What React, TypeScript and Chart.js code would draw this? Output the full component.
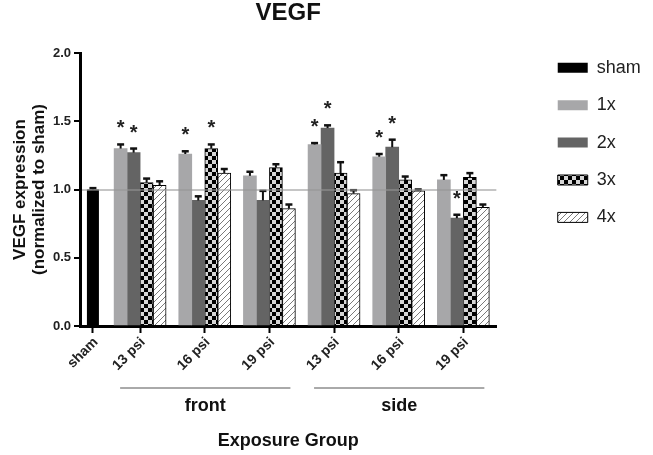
import React, { useEffect, useRef } from "react";
import { Chart, registerables } from "chart.js";

Chart.register(...registerables);

// ---- data ----
const categoryLabels = ["sham", "13 psi", "16 psi", "19 psi", "13 psi", "16 psi", "19 psi"];
// position of each category on the (numeric) category axis; sham sits closer to the first group
const categoryPositions = [0.27, 1, 2, 3, 4, 5, 6];
const seriesNames = ["sham", "1x", "2x", "3x", "4x"];

const shamValues = [1.0];
const shamErrors = [0.01];

const values1x = [1.30, 1.26, 1.10, 1.33, 1.24, 1.07];
const errors1x = [0.03, 0.02, 0.03, 0.01, 0.02, 0.035];
const stars1x = [true, true, false, true, true, false];

const values2x = [1.27, 0.92, 0.92, 1.45, 1.31, 0.79];
const errors2x = [0.03, 0.03, 0.07, 0.02, 0.055, 0.025];
const stars2x = [true, false, false, true, true, true];

const values3x = [1.05, 1.30, 1.16, 1.12, 1.07, 1.09];
const errors3x = [0.03, 0.03, 0.025, 0.08, 0.025, 0.03];
const stars3x = [false, true, false, false, false, false];

const values4x = [1.03, 1.12, 0.86, 0.97, 0.99, 0.87];
const errors4x = [0.03, 0.03, 0.03, 0.025, 0.01, 0.02];
const stars4x = [false, false, false, false, false, false];

const groupSpans = [
  { label: "front", from: 1, to: 3 },
  { label: "side", from: 4, to: 6 },
];

const yTickStep = 0.5;
const referenceValue = 1.0;

const FONT = "'Liberation Sans', Arial, sans-serif";

function makeChecker(): CanvasPattern | string {
  const c = document.createElement("canvas");
  c.width = 8;
  c.height = 8;
  const g = c.getContext("2d");
  if (!g) return "#888";
  g.fillStyle = "#d6d6d6";
  g.fillRect(0, 0, 8, 8);
  g.fillStyle = "#000";
  g.fillRect(0, 0, 4, 4);
  g.fillRect(4, 4, 4, 4);
  return g.createPattern(c, "repeat") || "#888";
}

function makeHatch(): CanvasPattern | string {
  const s = 6;
  const c = document.createElement("canvas");
  c.width = s;
  c.height = s;
  const g = c.getContext("2d");
  if (!g) return "#fff";
  g.fillStyle = "#fff";
  g.fillRect(0, 0, s, s);
  g.strokeStyle = "#7a7a7a";
  g.lineWidth = 1;
  g.beginPath();
  g.moveTo(-1, s + 1);
  g.lineTo(s + 1, -1);
  g.moveTo(-1, 1);
  g.lineTo(1, -1);
  g.moveTo(s - 1, s + 1);
  g.lineTo(s + 1, s - 1);
  g.stroke();
  return g.createPattern(c, "repeat") || "#fff";
}

const errorBarPlugin = {
  id: "errorBars",
  afterDatasetsDraw(chart: any) {
    const ctx = chart.ctx;
    const yScale = chart.scales.y;
    ctx.save();
    chart.data.datasets.forEach((ds: any, di: number) => {
      const meta = chart.getDatasetMeta(di);
      if (meta.hidden) return;
      meta.data.forEach((el: any, i: number) => {
        const raw = ds.data[i];
        const err = ds.errors ? ds.errors[i] : 0;
        const topY = yScale.getPixelForValue(raw.y + err);
        ctx.strokeStyle = "#111";
        ctx.lineWidth = 2;
        ctx.beginPath();
        ctx.moveTo(el.x, el.y);
        ctx.lineTo(el.x, topY);
        ctx.stroke();
        ctx.lineWidth = 2.5;
        ctx.beginPath();
        ctx.moveTo(el.x - 3.5, topY);
        ctx.lineTo(el.x + 3.5, topY);
        ctx.stroke();
        if (ds.stars && ds.stars[i]) {
          ctx.fillStyle = "#222";
          ctx.font = `bold 20px ${FONT}`;
          ctx.textAlign = "center";
          ctx.textBaseline = "alphabetic";
          ctx.fillText("*", el.x, topY - 10);
        }
      });
    });
    ctx.restore();
  },
};

const groupLabelPlugin = {
  id: "groupLabels",
  afterDraw(chart: any) {
    const ctx = chart.ctx;
    const xs = chart.scales.x;
    ctx.save();
    groupSpans.forEach((g) => {
      const x1 = xs.getPixelForValue(categoryPositions[g.from]) - 20;
      const x2 = xs.getPixelForValue(categoryPositions[g.to]) + 21;
      const y = xs.top + 62;
      ctx.strokeStyle = "#555";
      ctx.lineWidth = 1;
      ctx.beginPath();
      ctx.moveTo(x1, y);
      ctx.lineTo(x2, y);
      ctx.stroke();
      ctx.fillStyle = "#111";
      ctx.font = `bold 18px ${FONT}`;
      ctx.textAlign = "center";
      ctx.textBaseline = "middle";
      ctx.fillText(g.label, (x1 + x2) / 2, y + 18);
    });
    ctx.restore();
  },
};

export default function App() {
  const canvasRef = useRef<HTMLCanvasElement | null>(null);

  useEffect(() => {
    document.body.style.margin = "0";
    const canvas = canvasRef.current;
    if (!canvas) return;
    const checker = makeChecker();
    const hatch = makeHatch();

    const toPoints = (vals: number[]) => vals.map((y, i) => ({ x: categoryPositions[i + 1], y }));

    const common = { xAxisID: "x", yAxisID: "y" };

    const chart = new Chart(canvas, {
      type: "bar",
      data: {
        datasets: [
          {
            ...common,
            label: seriesNames[0],
            data: shamValues.map((y) => ({ x: categoryPositions[0], y })),
            errors: shamErrors,
            backgroundColor: "#000",
            borderColor: "#000",
            borderWidth: 0,
            grouped: false,
            maxBarThickness: 12,
          } as any,
          {
            ...common,
            label: seriesNames[1],
            data: toPoints(values1x),
            errors: errors1x,
            stars: stars1x,
            backgroundColor: "#a7a7a9",
            borderWidth: 0,
            barThickness: 13,
            stack: "s1",
          } as any,
          {
            ...common,
            label: seriesNames[2],
            data: toPoints(values2x),
            errors: errors2x,
            stars: stars2x,
            backgroundColor: "#646464",
            borderWidth: 0,
            barThickness: 13,
            stack: "s2",
          } as any,
          {
            ...common,
            label: seriesNames[3],
            data: toPoints(values3x),
            errors: errors3x,
            stars: stars3x,
            backgroundColor: checker,
            borderColor: "#000",
            borderWidth: 1,
            barThickness: 13,
            stack: "s3",
          } as any,
          {
            ...common,
            label: seriesNames[4],
            data: toPoints(values4x),
            errors: errors4x,
            stars: stars4x,
            backgroundColor: hatch,
            borderColor: "#000",
            borderWidth: 1,
            barThickness: 13,
            stack: "s4",
          } as any,
        ],
      },
      options: {
        responsive: false,
        animation: false,
        events: [],
        layout: { padding: { right: 7 } },
        font: { family: FONT },
        plugins: {
          tooltip: { enabled: false },
          title: { display: false },
          legend: {
            position: "right",
            align: "start",
            title: { display: true, text: "", padding: { top: 25, bottom: 0 } },
            labels: {
              boxWidth: 30,
              boxHeight: 10,
              padding: 19.4,
              color: "#222",
              font: { size: 18, family: FONT },
            },
          },
        },
        scales: {
          x: {
            type: "linear",
            position: "bottom",
            min: 0.07,
            max: 6.51,
            offset: false,
            afterBuildTicks: (s: any) => {
              s.ticks = categoryPositions.map((v) => ({ value: v }));
            },
            afterFit: (s: any) => {
              s.height = 129;
            },
            ticks: {
              autoSkip: false,
              minRotation: 45,
              maxRotation: 45,
              padding: 1,
              labelOffset: 3,
              color: "#222",
              font: { size: 14, weight: "bold", family: FONT },
              callback: (_v: any, i: number) => categoryLabels[i],
            },
            grid: {
              display: true,
              drawOnChartArea: false,
              offset: false,
              tickColor: "#000",
              tickLength: 7,
              tickWidth: 2,
            },
            border: { display: true, color: "#000", width: 3 },
            title: {
              display: true,
              text: "Exposure Group",
              color: "#111",
              font: { size: 18, weight: "bold", family: FONT },
              padding: { top: 0, bottom: 3 },
            },
          } as any,
          x2: {
            type: "linear",
            position: "top",
            display: true,
            afterFit: (s: any) => {
              s.height = 53;
            },
            ticks: { display: false },
            grid: { display: false, drawTicks: false },
            border: { display: false },
            title: {
              display: true,
              text: "VEGF",
              color: "#111",
              font: { size: 24, weight: "bold", family: FONT, lineHeight: 1 },
              padding: { top: 1, bottom: 0 },
            },
          } as any,
          y: {
            type: "linear",
            position: "left",
            min: 0,
            max: 2,
            afterFit: (s: any) => {
              s.width = 80;
            },
            ticks: {
              stepSize: yTickStep,
              padding: 3,
              color: "#222",
              font: { size: 13, weight: "bold", family: FONT },
              callback: (v: any) => Number(v).toFixed(1),
            },
            grid: {
              z: 1,
              drawOnChartArea: true,
              color: (c: any) =>
                c.tick && Math.abs(c.tick.value - referenceValue) < 1e-9 ? "rgba(150,150,150,0.55)" : "rgba(0,0,0,0)",
              lineWidth: 2,
              tickColor: "#000",
              tickLength: 6,
              tickWidth: 2,
            },
            border: { display: true, color: "#000", width: 3, z: 1 },
            title: {
              display: true,
              text: ["VEGF expression", "(normalized to sham)"],
              color: "#111",
              font: { size: 17, weight: "bold", family: FONT, lineHeight: 1.1 },
              padding: { top: 11, bottom: 0 },
            },
          } as any,
          y2: {
            type: "linear",
            position: "right",
            display: true,
            afterFit: (s: any) => {
              s.width = 42;
            },
            ticks: { display: false },
            grid: { display: false, drawTicks: false },
            border: { display: false },
          } as any,
        },
      } as any,
      plugins: [errorBarPlugin, groupLabelPlugin],
    });

    return () => {
      chart.destroy();
    };
  }, []);

  return (
    <div style={{ width: 653, height: 455, position: "relative", background: "#fff" }}>
      <canvas ref={canvasRef} width={653} height={455} style={{ display: "block", width: 653, height: 455 }} />
    </div>
  );
}
